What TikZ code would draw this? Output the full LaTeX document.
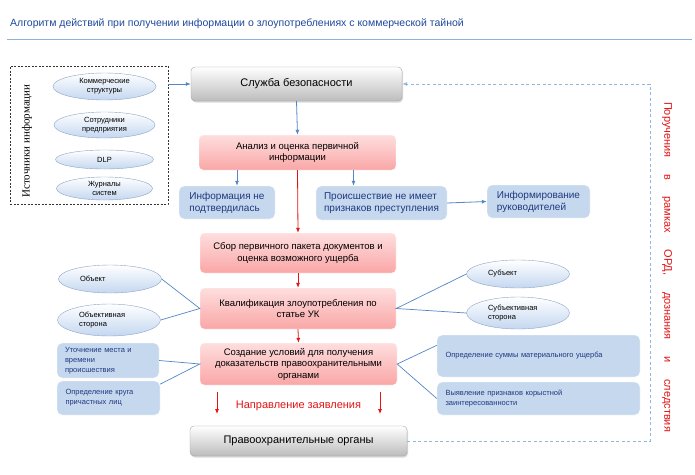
\documentclass[tikz,border=0pt]{standalone}
\usepackage{fontspec}
\setmainfont{Liberation Sans}
\newfontfamily\serifru{Liberation Serif}
\usetikzlibrary{shapes.geometric,shadows,arrows.meta}
\definecolor{titleblue}{RGB}{31,73,155}
\definecolor{rulebl}{RGB}{140,178,222}
\definecolor{boxbl}{RGB}{198,216,237}
\definecolor{txtbl}{RGB}{31,56,128}
\definecolor{linebl}{RGB}{84,135,196}
\definecolor{pinktop}{RGB}{254,222,222}
\definecolor{pinkbot}{RGB}{250,166,166}
\definecolor{ellbot}{RGB}{196,215,240}
\definecolor{ellbd}{RGB}{140,165,200}
\definecolor{graybot}{RGB}{188,188,188}
\definecolor{dashbl}{RGB}{145,182,226}
\definecolor{redarr}{RGB}{228,20,20}
\tikzset{
  graybox/.style={rounded corners=4pt, draw=gray!70, top color=white, bottom color=graybot,
    drop shadow={shadow xshift=1pt, shadow yshift=-1.5pt, opacity=0.3},
    font=\fontsize{11}{13}\selectfont},
  pinkbox/.style={rounded corners=4pt, draw=white, top color=pinktop, bottom color=pinkbot,
    align=center, font=\fontsize{9.5}{11.5}\selectfont},
  bluebox/.style={rounded corners=5pt, draw=white, fill=boxbl, text=txtbl, align=left,
    font=\fontsize{10}{12}\selectfont},
  sbox/.style={bluebox, font=\fontsize{7.5}{10}\selectfont},
  ell/.style={ellipse, draw=ellbd, top color=white, bottom color=ellbot, inner sep=0pt,
    minimum width=103pt, minimum height=28pt, font=\fontsize{7.5}{9}\selectfont},
  barrow/.style={draw=linebl, line width=0.8pt, -{Latex[length=5pt,width=4pt]}},
  rarrow/.style={draw=redarr, line width=0.8pt, -{Latex[length=5pt,width=4pt]}},
  bline/.style={draw=linebl, line width=0.7pt},
}
\begin{document}
\begin{tikzpicture}[x=1pt,y=-1pt]
\useasboundingbox (0,0) rectangle (695,474);
\fill[white] (0,0) rectangle (695,474);
% title
\node[anchor=base west, text=titleblue, font=\fontsize{10.5}{12}\selectfont, inner sep=0] (title) at (10,26)
  {Алгоритм действий при получении информации о злоупотреблениях с коммерческой тайной};
\draw[rulebl, line width=1pt] (7,39) -- (692,39);
% sources
\node[draw=black!80, dash pattern=on 2pt off 1.5pt, minimum width=158pt, minimum height=138pt, inner sep=0] (src) at (89,135) {};
\node[rotate=90, font=\serifru\fontsize{11}{13}\selectfont] (srct) at (27,141) {Источники информации};
\node[ell, align=center, minimum height=27pt] (e1) at (104.5,86.5) {Коммерческие\\структуры};
\node[ell, align=center, minimum height=26pt, minimum width=101pt] (e2) at (104.5,125) {Сотрудники\\предприятия};
\node[ell, align=center, minimum height=19pt, minimum width=98pt] (e3) at (104.5,159.5) {DLP};
\node[ell, align=center, minimum height=23pt, minimum width=96pt, font=\fontsize{7.5}{8.5}\selectfont] (e4) at (104.5,188.5) {Журналы\\систем};
% main column
\node[graybox, minimum width=211pt, minimum height=34pt] (sl) at (296.5,84) {Служба безопасности};
\node[pinkbox, minimum width=197pt, minimum height=35pt] (an) at (297.5,152.5) {Анализ и оценка первичной\\информации};
\node[bluebox, minimum width=96pt, minimum height=33pt] (inf) at (227,202.5) {Информация не\\подтвердилась};
\node[bluebox, minimum width=131pt, minimum height=34pt] (pr) at (381.5,203) {Происшествие не имеет\\признаков преступления};
\node[bluebox, minimum width=103pt, minimum height=33pt] (im) at (538.5,201.5) {Информирование\\руководителей};
\node[pinkbox, minimum width=196pt, minimum height=40pt] (sb) at (298,253) {Сбор первичного пакета документов и\\оценка возможного ущерба};
\node[pinkbox, minimum width=196pt, minimum height=41pt] (kv) at (298,308.5) {Квалификация злоупотребления по\\статье УК};
\node[pinkbox, minimum width=197pt, minimum height=42pt] (sz) at (298.5,364) {Создание условий для получения\\доказательств правоохранительными\\органами};
\node[graybox, minimum width=217pt, minimum height=30pt] (po) at (298.5,441) {Правоохранительные органы};
% side ellipses
\node[ell, text width=60pt, align=left] (ob) at (110,279) {Объект};
\node[ell, text width=60pt, align=left, minimum height=32pt] (os) at (109,320) {Объективная\\сторона};
\node[ell, text width=60pt, align=left] (su) at (518,274) {Субъект};
\node[ell, text width=60pt, align=left, minimum height=32pt] (ss) at (518,313) {Субъективная\\сторона};
% side boxes
\node[sbox, minimum width=102pt, minimum height=35pt, text width=86pt] (ut) at (108,360.5) {Уточнение места и\\времени\\происшествия};
\node[sbox, minimum width=103pt, minimum height=34pt, text width=86pt] (ok) at (108.5,398) {Определение круга\\причастных лиц};
\node[sbox, minimum width=203pt, minimum height=42pt, text width=186pt] (sm) at (538.5,356) {Определение суммы материального ущерба};
\node[sbox, minimum width=203pt, minimum height=33pt, text width=186pt] (vy) at (538.5,398.5) {Выявление признаков корыстной\\заинтересованности};
% connectors
\draw[barrow] (src.east |- sl.west) -- (sl.west);
\draw[barrow] (sl.south) -- (an.north);
\draw[barrow] ([xshift=10pt]inf.north |- an.south) -- ([xshift=10pt]inf.north);
\draw[barrow] ([xshift=-28pt]pr.north |- an.south) -- ([xshift=-28pt]pr.north);
\draw[barrow] (pr.east) -- (im.west);
\draw[rarrow] (an.south) -- (sb.north);
\draw[rarrow] (sb.south) -- (kv.north);
\draw[rarrow] (kv.south) -- (sz.north);
\draw[bline] (ob.east) -- (kv.west) -- (os.east);
\draw[bline] (su.west) -- (kv.east) -- (ss.west);
\draw[bline] (ut.east) -- (sz.west) -- (ok.15);
\draw[bline] (sm.174) -- (sz.east) -- (vy.west);
% red arrows
\coordinate (ra1) at (217,392);
\coordinate (ra2) at (217,414);
\coordinate (rb1) at (380,392);
\coordinate (rb2) at (380,414);
\draw[rarrow] (ra1) -- (ra2);
\draw[rarrow] (rb1) -- (rb2);
\node[text=redarr, font=\fontsize{11}{13}\selectfont] (nz) at (298.5,406) {Направление заявления};
% feedback
\coordinate (fb) at (650,84);
\draw[draw=dashbl, line width=0.9pt, dash pattern=on 3pt off 2.5pt, -{Latex[length=5pt,width=4pt]}] (po.east) -| (fb) -- (sl.east);
\node[rotate=-90, text=redarr, font=\fontsize{11}{13}\selectfont, inner sep=0] (por) at (667,267)
  {\makebox[330pt]{Поручения\hfill в\hfill рамках\hfill ОРД,\hfill дознания\hfill и\hfill следствия}};
\end{tikzpicture}
\end{document}
